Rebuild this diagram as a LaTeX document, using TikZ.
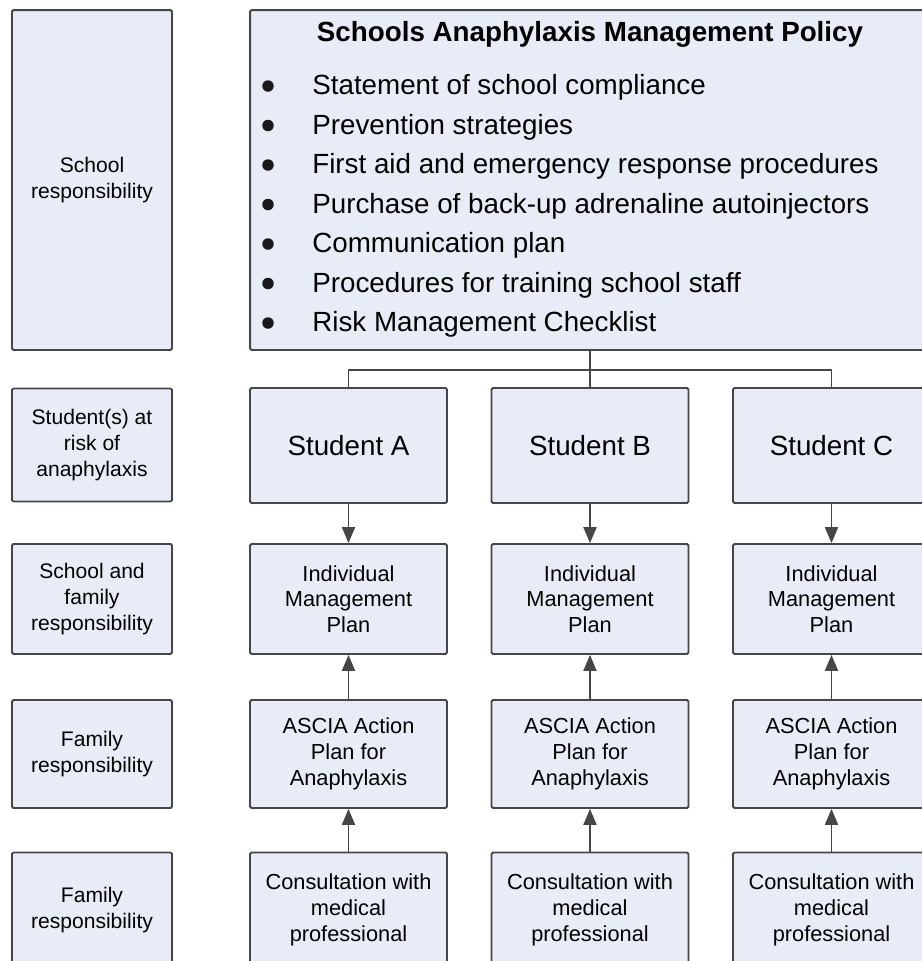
\documentclass[tikz,border=0pt]{standalone}
\usepackage{fontspec}
\setmainfont{Liberation Sans}
\usetikzlibrary{arrows}

\definecolor{boxfill}{RGB}{231,236,246}
\definecolor{boxline}{RGB}{70,70,70}

\begin{document}
\begin{tikzpicture}[line cap=round,line join=round,>=triangle 45,x=0.02cm,y=-0.02cm,
	cell/.style={draw=boxline,fill=boxfill,line width=1.1pt,rounded corners=0.8pt,inner sep=0pt,align=center},
	label/.style={cell,minimum width=3.2cm,font=\fontsize{12}{14.8}\selectfont},
	item/.style={cell,minimum width=3.94cm,font=\fontsize{12.4}{14.6}\selectfont},
	link/.style={draw=boxline,line width=1.1pt}]
	\useasboundingbox (0,0) rectangle (922,961);
	\clip (0,0) rectangle (922,961);
	% left hand labels
	\node[label,minimum height=6.8cm] (lab0) at (92,180) {School\\responsibility};
	\node[label,minimum height=2.26cm] (lab1) at (92,445) {Student(s) at\\risk of\\anaphylaxis};
	\node[label,minimum height=2.2cm] (lab2) at (92,599) {School and\\family\\responsibility};
	\node[label,minimum height=2.16cm] (lab3) at (92,754) {Family\\responsibility};
	\node[label,minimum height=2.3cm] (lab4) at (92,910) {Family\\responsibility};
	% policy box with its list
	\node[cell,minimum width=13.6cm,minimum height=6.8cm] (policy) at (590,180) {};
	\node[font=\bfseries\fontsize{15.8}{18}\selectfont] (title) at (590,34) {Schools Anaphylaxis Management Policy};
	\foreach \txt [count=\i] in {Statement of school compliance,Prevention strategies,First aid and emergency response procedures,Purchase of back-up adrenaline autoinjectors,Communication plan,Procedures for training school staff,Risk Management Checklist}{
		\node[circle,fill=black!90,inner sep=0pt,minimum size=0.23cm] (dot\i) at (268,{46.5+39.5*\i}) {};
		\node[anchor=west,inner sep=0pt,font=\fontsize{15.8}{18}\selectfont] (pt\i) at (312,{48+39.5*\i}) {\txt};
	}
	% one column per student
	\foreach \s/\x in {A/348.5,B/590,C/831.5}{
		\node[item,minimum height=2.3cm,font=\fontsize{15.8}{18}\selectfont] (stu\s) at (\x,445.5) {Student \s};
		\node[item,minimum height=2.2cm] (imp\s) at (\x,599) {Individual\\Management\\Plan};
		\node[item,minimum height=2.16cm] (ascia\s) at (\x,754) {ASCIA Action\\Plan for\\Anaphylaxis};
		\node[item,minimum height=2.3cm] (cons\s) at (\x,910) {Consultation with\\medical\\professional};
		\draw[link,->] (stu\s) -- (imp\s);
		\draw[link,->] (ascia\s) -- (imp\s);
		\draw[link,->] (cons\s) -- (ascia\s);
	}
	\coordinate (bar) at (590,370);
	\draw[link] (policy.south) -- (stuB.north);
	\draw[link] (stuA.north) |- (bar) -| (stuC.north);
\end{tikzpicture}
\end{document}
